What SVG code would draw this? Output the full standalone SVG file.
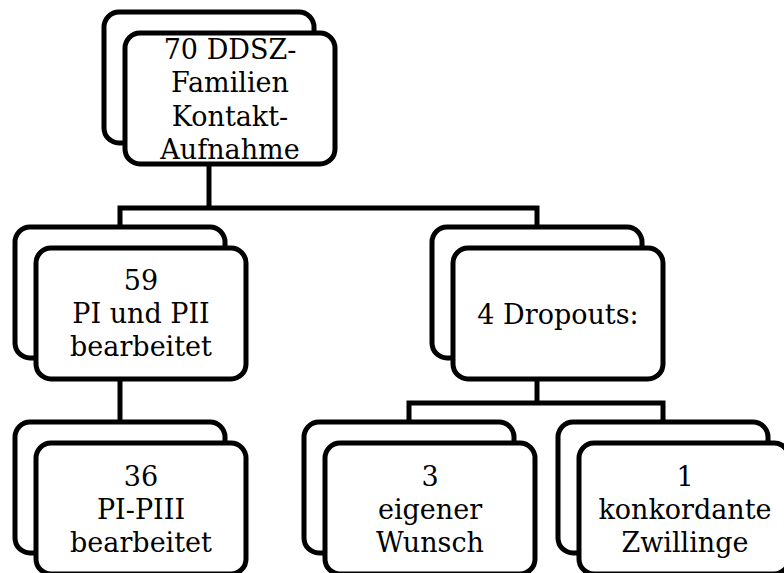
<svg xmlns="http://www.w3.org/2000/svg" width="784" height="573" viewBox="0 0 784 573">
<style>
.box{fill:#fff;stroke:#000;stroke-width:5}
.con{fill:none;stroke:#000;stroke-width:5}
text{font-family:"DejaVu Serif","Liberation Serif",serif;font-size:27px;fill:#000;text-anchor:middle}
</style>
<rect width="784" height="573" fill="#fff"/>
<g id="connectors">
<path class="con" d="M209,164 V208"/>
<path class="con" d="M120,227 V208 H537 V227"/>
<path class="con" d="M120,379 V422"/>
<path class="con" d="M537,379 V403"/>
<path class="con" d="M409,422 V403 H663 V422"/>
</g>
<g id="node-top">
<rect class="box" x="104" y="12" width="210" height="131" rx="15"/>
<rect class="box" x="125" y="33" width="210" height="131" rx="15"/>
<text x="230" y="59">70 DDSZ-</text>
<text x="230" y="92">Familien</text>
<text x="230" y="126">Kontakt-</text>
<text x="230" y="159">Aufnahme</text>
</g>
<g id="node-59">
<rect class="box" x="15" y="227" width="210" height="131" rx="15"/>
<rect class="box" x="36" y="248" width="210" height="131" rx="15"/>
<text x="141" y="290">59</text>
<text x="141" y="323">PI und PII</text>
<text x="141" y="356">bearbeitet</text>
</g>
<g id="node-dropouts">
<rect class="box" x="432" y="227" width="210" height="131" rx="15"/>
<rect class="box" x="453" y="248" width="210" height="131" rx="15"/>
<text x="558" y="324">4 Dropouts:</text>
</g>
<g id="node-36">
<rect class="box" x="15" y="422" width="210" height="131" rx="15"/>
<rect class="box" x="36" y="443" width="210" height="131" rx="15"/>
<text x="141" y="486">36</text>
<text x="141" y="519">PI-PIII</text>
<text x="141" y="552">bearbeitet</text>
</g>
<g id="node-3">
<rect class="box" x="304" y="422" width="210" height="131" rx="15"/>
<rect class="box" x="325" y="443" width="210" height="131" rx="15"/>
<text x="430" y="486">3</text>
<text x="430" y="519">eigener</text>
<text x="430" y="552">Wunsch</text>
</g>
<g id="node-1">
<rect class="box" x="558" y="422" width="210" height="131" rx="15"/>
<rect class="box" x="579" y="443" width="210" height="131" rx="15"/>
<text x="685" y="486">1</text>
<text x="685" y="519">konkordante</text>
<text x="685" y="552">Zwillinge</text>
</g>
</svg>
